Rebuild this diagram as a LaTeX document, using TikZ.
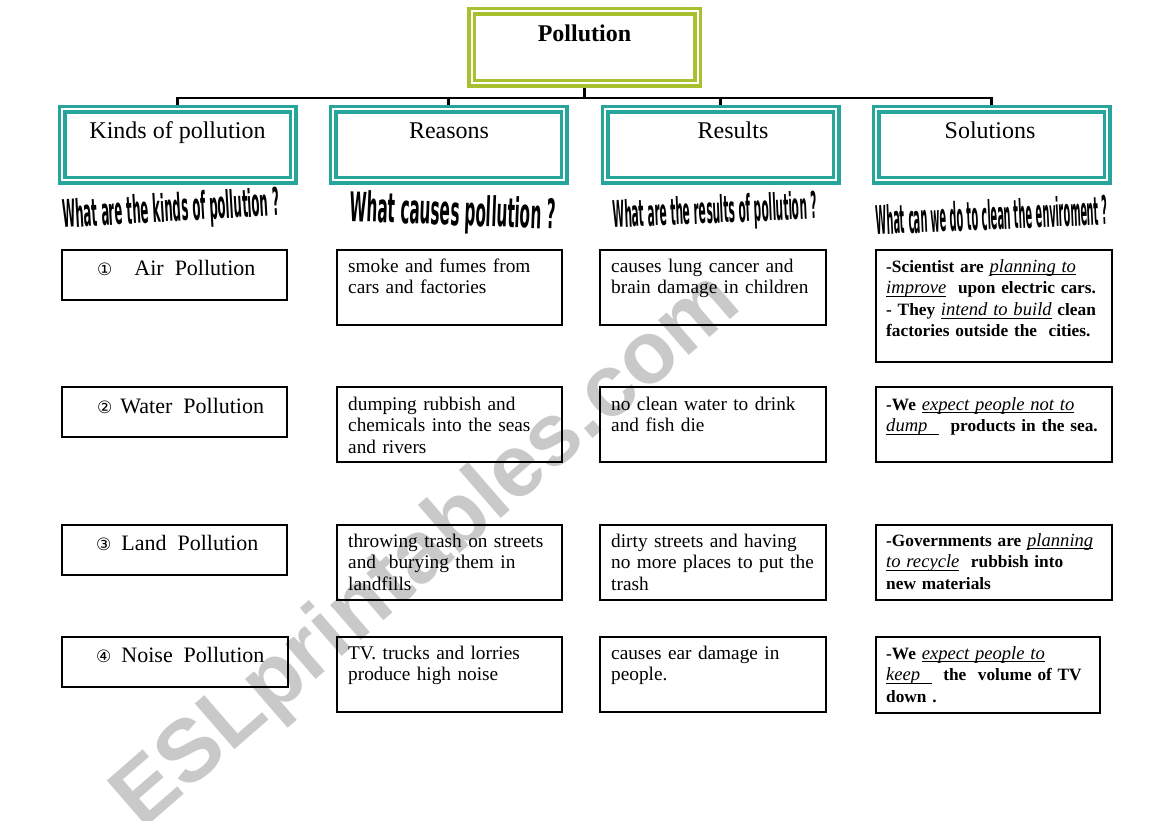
\documentclass[tikz,border=0pt]{standalone}
\usepackage{fontspec}
\setmainfont{Liberation Serif}
\setsansfont{Liberation Sans}
\newfontfamily\dejavu{DejaVu Sans}
\usepackage{graphicx}
\definecolor{tealbox}{RGB}{38,166,154}
\definecolor{olivebox}{RGB}{166,192,46}
\newsavebox\ulbox
\newcommand\cnum[1]{{\dejavu\fontsize{17}{17}\selectfont #1}}
\newcommand\myul[1]{\leavevmode\sbox\ulbox{\fontsize{18.6}{21.5}\selectfont\mdseries\itshape #1}\rlap{\rule[-3.2pt]{\wd\ulbox}{0.9pt}}\usebox\ulbox}
\newcommand\wordart[3]{\resizebox{#1}{#2}{\dejavu\bfseries #3}}
\tikzset{
  hdr/.style={draw=tealbox, double=white, double distance=2pt, line width=3.5pt,
    minimum width=231pt, minimum height=71pt, inner sep=0pt, outer sep=4.5pt},
  rootbox/.style={draw=olivebox, double=white, double distance=2pt, line width=3.5pt,
    minimum width=226pt, minimum height=72pt, inner sep=0pt, outer sep=4.5pt},
  hlabel/.style={font=\fontsize{24}{28}\selectfont, inner sep=0pt, anchor=base},
  cell/.style={draw=black, line width=1.2pt, inner sep=0pt, outer sep=0pt, anchor=north west},
  kind/.style={font=\fontsize{22}{26}\selectfont, inner sep=0pt, anchor=base west},
  body/.style={font=\fontsize{19.3}{21.7}\selectfont, text width=245pt, align=left,
    inner sep=0pt, anchor=base west},
  sol/.style={body, font=\fontsize{17.3}{21.6}\selectfont\bfseries},
  wa/.style={inner sep=0pt, anchor=center},
  conn/.style={line width=2.6pt, draw=black},
  watermark/.style={rotate=41, text=black!21, font=\fontsize{88}{88}\selectfont\sffamily\bfseries, inner sep=0pt}
}
\begin{document}
\begin{tikzpicture}[x=1pt,y=-1pt]
\useasboundingbox (0,0) rectangle (1169,821);
\fill[white] (0,0) rectangle (1169,821);

% watermark
\node[watermark] (wm) at (428,552) {ESLprintables.com};

% root
\node[rootbox] (root) at (584.5,47.5) {};
\node[hlabel, font=\fontsize{24}{28}\selectfont\bfseries] (roottxt) at (584.5,42) {Pollution};

% headers
\node[hdr] (h1) at (177.5,145) {};
\node[hdr] (h2) at (448.5,145) {};
\node[hdr] (h3) at (720.5,145) {};
\node[hdr] (h4) at (991.5,145) {};
\node[hlabel] (h1t) at (177.5,139) {Kinds of pollution};
\node[hlabel] (h2t) at (449,139) {Reasons};
\node[hlabel] (h3t) at (733,139) {Results};
\node[hlabel] (h4t) at (990,139) {Solutions};

% connectors
\coordinate (bus) at (584.5,98);
\draw[conn] (root.south) -- (bus);
\draw[conn] (bus) -| (h1.north);
\draw[conn] (bus) -| (h2.north);
\draw[conn] (bus) -| (h3.north);
\draw[conn] (bus) -| (h4.north);

% word art questions
\node[wa, rotate=3.3] (w1) at (171,211) {\wordart{217pt}{29pt}{What are the kinds of pollution ?}};
\node[wa, rotate=-2.2] (w2) at (453,214) {\wordart{206pt}{31pt}{What causes pollution ?}};
\node[wa, rotate=2.5] (w3) at (715,213) {\wordart{204pt}{28pt}{What are the results of pollution ?}};
\node[wa, rotate=2.5] (w4) at (992,215) {\wordart{232pt}{30pt}{What can we do to clean the enviroment ?}};

% column 1: kinds
\node[cell, minimum width=225pt, minimum height=50pt] (k1) at (62,250) {};
\node[cell, minimum width=225pt, minimum height=50pt] (k2) at (62,387) {};
\node[cell, minimum width=225pt, minimum height=50pt] (k3) at (62,525) {};
\node[cell, minimum width=226pt, minimum height=50pt] (k4) at (62,637) {};
\node[kind] (tk1) at ([xshift=35pt,yshift=-25pt]k1.north west) {\cnum{①}\hspace{22pt}Air\ \ Pollution};
\node[kind] (tk2) at ([xshift=35pt,yshift=-26pt]k2.north west) {\cnum{②}\hspace{8pt}Water\ \ Pollution};
\node[kind] (tk3) at ([xshift=34pt,yshift=-25pt]k3.north west) {\cnum{③}\hspace{10pt}Land\ \ Pollution};
\node[kind] (tk4) at ([xshift=34pt,yshift=-25pt]k4.north west) {\cnum{④}\hspace{10pt}Noise\ \ Pollution};

% column 2: reasons
\node[cell, minimum width=225pt, minimum height=75pt] (r1) at (337,250) {};
\node[cell, minimum width=225pt, minimum height=75pt] (r2) at (337,387) {};
\node[cell, minimum width=225pt, minimum height=75pt] (r3) at (337,525) {};
\node[cell, minimum width=225pt, minimum height=75pt] (r4) at (337,637) {};
\node[body] (tr1) at ([xshift=11pt,yshift=-22pt]r1.north west) {smoke and fumes from\\cars and factories};
\node[body] (tr2) at ([xshift=11pt,yshift=-23pt]r2.north west) {dumping rubbish and\\chemicals into the seas\\and rivers};
\node[body] (tr3) at ([xshift=11pt,yshift=-22pt]r3.north west) {throwing trash on streets\\and\ \ burying them in\\landfills};
\node[body] (tr4) at ([xshift=11pt,yshift=-22pt]r4.north west) {TV. trucks and lorries\\produce high noise};

% column 3: results
\node[cell, minimum width=226pt, minimum height=75pt] (e1) at (600,250) {};
\node[cell, minimum width=226pt, minimum height=75pt] (e2) at (600,387) {};
\node[cell, minimum width=226pt, minimum height=75pt] (e3) at (600,525) {};
\node[cell, minimum width=226pt, minimum height=75pt] (e4) at (600,637) {};
\node[body] (te1) at ([xshift=11pt,yshift=-22pt]e1.north west) {causes lung cancer and\\brain damage in children};
\node[body] (te2) at ([xshift=11pt,yshift=-23pt]e2.north west) {no clean water to drink\\and fish die};
\node[body] (te3) at ([xshift=11pt,yshift=-22pt]e3.north west) {dirty streets and having\\no more places to put the\\trash};
\node[body] (te4) at ([xshift=11pt,yshift=-22pt]e4.north west) {causes ear damage in\\people.};

% column 4: solutions
\node[cell, minimum width=236pt, minimum height=112pt] (s1) at (876,250) {};
\node[cell, minimum width=236pt, minimum height=75pt] (s2) at (876,387) {};
\node[cell, minimum width=236pt, minimum height=75pt] (s3) at (876,525) {};
\node[cell, minimum width=224pt, minimum height=76pt] (s4) at (876,637) {};
\node[sol] (ts1) at ([xshift=10pt,yshift=-22pt]s1.north west) {-Scientist are \myul{planning to}\\\myul{improve}\ \ upon electric cars.\\- They \myul{intend to build} clean\\factories outside the\ \ cities.};
\node[sol] (ts2) at ([xshift=10pt,yshift=-23pt]s2.north west) {-We \myul{expect people not to}\\\myul{dump\ \ }\ \ products in the sea.};
\node[sol] (ts3) at ([xshift=10pt,yshift=-21pt]s3.north west) {-Governments are \myul{planning}\\\myul{to recycle}\ \ rubbish into\\new materials};
\node[sol] (ts4) at ([xshift=10pt,yshift=-22pt]s4.north west) {-We \myul{expect people to}\\\myul{keep\ \ }\ \ the\ \ volume of TV\\down .};
\end{tikzpicture}
\end{document}
